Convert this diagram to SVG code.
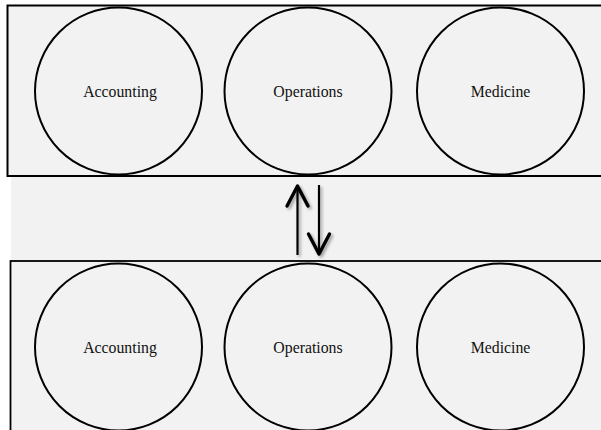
<svg xmlns="http://www.w3.org/2000/svg" width="601" height="430" viewBox="0 0 601 430">
  <style>
    .panel { fill: #f2f2f2; stroke: #000; }
    .unit { fill: none; stroke: #000; stroke-width: 2; }
    .label { font-family: "Liberation Serif", "Times New Roman", serif; font-size: 15.8px; fill: #111; text-anchor: middle; }
    .shaft { stroke: #000; stroke-width: 2.2; fill: none; }
    .head { stroke: #000; stroke-width: 3.4; fill: none; stroke-linecap: round; stroke-linejoin: round; }
  </style>
  <defs>
    <filter id="soft" x="-50%" y="-20%" width="200%" height="140%">
      <feGaussianBlur in="SourceAlpha" stdDeviation="1.5"/>
      <feOffset dx="1.5" dy="1.5" result="b"/>
      <feComponentTransfer><feFuncA type="linear" slope="0.35"/></feComponentTransfer>
      <feMerge><feMergeNode/><feMergeNode in="SourceGraphic"/></feMerge>
    </filter>
  </defs>

  <rect width="601" height="430" fill="#ffffff"/>
  <!-- shaded backdrop between and around the panels -->
  <rect x="11" y="176" width="590" height="254" fill="#f2f2f2"/>

  <!-- upper panel -->
  <g id="panel-top">
    <rect class="panel" x="7.5" y="5.5" width="600" height="170.5" stroke-width="2"/>
  </g>
  <!-- lower panel -->
  <g id="panel-bottom">
    <rect class="panel" x="10.5" y="261" width="600" height="180" stroke-width="1.8"/>
  </g>

  <g id="top-accounting">
    <circle class="unit" cx="118.5" cy="91" r="83.5"/>
    <text class="label" x="120" y="97.3">Accounting</text>
  </g>
  <g id="top-operations">
    <circle class="unit" cx="308" cy="91" r="83.5"/>
    <text class="label" x="308" y="97.3">Operations</text>
  </g>
  <g id="top-medicine">
    <circle class="unit" cx="500.5" cy="91" r="83.5"/>
    <text class="label" x="500.5" y="97.3">Medicine</text>
  </g>

  <g id="bottom-accounting">
    <circle class="unit" cx="118.5" cy="347" r="83.5"/>
    <text class="label" x="120" y="353.3">Accounting</text>
  </g>
  <g id="bottom-operations">
    <circle class="unit" cx="308" cy="347" r="83.5"/>
    <text class="label" x="308" y="353.3">Operations</text>
  </g>
  <g id="bottom-medicine">
    <circle class="unit" cx="500.5" cy="347" r="83.5"/>
    <text class="label" x="500.5" y="353.3">Medicine</text>
  </g>

  <!-- two-way exchange between the panels -->
  <g id="connectors" filter="url(#soft)">
    <line class="shaft" x1="297.5" y1="255" x2="297.5" y2="187"/>
    <polyline class="head" points="287,206 297.5,186 308,206"/>
    <line class="shaft" x1="319" y1="185" x2="319" y2="253"/>
    <polyline class="head" points="308.5,234 319,254 329.5,234"/>
  </g>
</svg>
